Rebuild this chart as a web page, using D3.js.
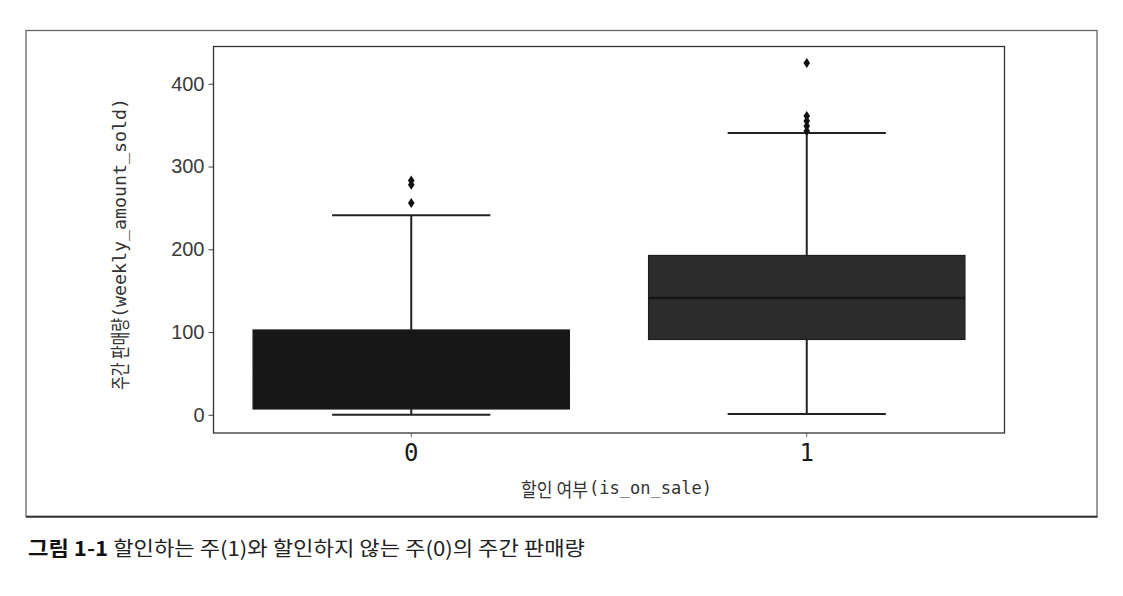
<!DOCTYPE html>
<html><head><meta charset="utf-8">
<script src="https://cdn.jsdelivr.net/npm/d3@7"></script>
<style>
html,body{margin:0;padding:0;background:#fff;}
svg{display:block;}
</style></head>
<body>
<svg id="chart" width="1123" height="596"></svg>
<script>
// ---- data ----
const categories = ["0", "1"];
const q1 = [7, 91];
const median = [55, 141];
const q3 = [102.5, 192.5];
const whiskerLow = [0, 1];
const whiskerHigh = [241, 340.5];
const outliers0 = [283, 278, 256];
const outliers1 = [425, 361, 355, 349, 343];
const yTicks = [0, 100, 200, 300, 400];
const yLabelKo = "주간 판매량";
const yLabelEn = "(weekly_amount_sold)";
const xLabelKo = "할인 여부";
const xLabelEn = "(is_on_sale)";
const captionBold = "그림 1-1";
const captionText = " 할인하는 주(1)와 할인하지 않는 주(0)의 주간 판매량";

const outliers = [outliers0, outliers1];
const boxFill = ["#171717", "#2c2c2c"];
const lineColor = "#222";

const svg = d3.select("#chart");
const M = {left: 213.5, right: 1004.5, top: 46.5, bottom: 433};

const x = d3.scaleBand().domain(categories).range([M.left, M.right]).padding(0);
const y = d3.scaleLinear().domain([-22, 445]).range([M.bottom, M.top]);

// outer frame
svg.append("rect").attr("x", 26).attr("y", 30.5).attr("width", 1071).attr("height", 486)
  .attr("fill", "none").attr("stroke", "#666").attr("stroke-width", 1.3);
svg.append("line").attr("x1", 26).attr("x2", 1097.5).attr("y1", 516.7).attr("y2", 516.7)
  .attr("stroke", "#333").attr("stroke-width", 2);

// boxes
const bw = x.bandwidth() * 0.8;
const g = svg.append("g");
categories.forEach((c, i) => {
  const cx = x(c) + x.bandwidth() / 2;
  // whiskers
  g.append("line").attr("x1", cx).attr("x2", cx).attr("y1", y(whiskerLow[i])).attr("y2", y(q1[i]))
    .attr("stroke", lineColor).attr("stroke-width", 2);
  g.append("line").attr("x1", cx).attr("x2", cx).attr("y1", y(q3[i])).attr("y2", y(whiskerHigh[i]))
    .attr("stroke", lineColor).attr("stroke-width", 2);
  // caps
  [whiskerLow[i], whiskerHigh[i]].forEach(v => {
    g.append("line").attr("x1", cx - bw / 4).attr("x2", cx + bw / 4).attr("y1", y(v)).attr("y2", y(v))
      .attr("stroke", lineColor).attr("stroke-width", 2);
  });
  // box
  g.append("rect").attr("x", cx - bw / 2).attr("width", bw)
    .attr("y", y(q3[i])).attr("height", y(q1[i]) - y(q3[i]))
    .attr("fill", boxFill[i]).attr("stroke", "#1e1e1e").attr("stroke-width", 1.2);
  // median
  g.append("line").attr("x1", cx - bw / 2).attr("x2", cx + bw / 2).attr("y1", y(median[i])).attr("y2", y(median[i]))
    .attr("stroke", i === 0 ? boxFill[0] : "#151515").attr("stroke-width", 2.5);
  // outliers (diamonds)
  g.selectAll(null).data(outliers[i]).enter().append("path")
    .attr("d", "M0,-5 L3.3,0 L0,5 L-3.3,0 Z")
    .attr("transform", d => `translate(${cx},${y(d)})`)
    .attr("fill", "#111");
});

// axes
const yAxis = svg.append("g").attr("transform", `translate(${M.left},0)`)
  .call(d3.axisLeft(y).tickValues(yTicks).tickSize(5).tickPadding(4));
yAxis.select(".domain").remove();
yAxis.selectAll(".tick line").attr("stroke", "#444");
yAxis.selectAll(".tick text").attr("font-family", "Liberation Sans, Arial, sans-serif")
  .attr("font-size", 20).attr("fill", "#3a3a3a");

const xAxis = svg.append("g").attr("transform", `translate(0,${M.bottom})`)
  .call(d3.axisBottom(x).tickSize(4).tickPadding(7));
xAxis.select(".domain").remove();
xAxis.selectAll(".tick line").attr("stroke", "#666");
xAxis.selectAll(".tick text").attr("font-family", "DejaVu Sans Mono, monospace")
  .attr("font-size", 24).attr("fill", "#1a1a1a");

// plot spines
svg.append("rect").attr("x", M.left).attr("y", M.top).attr("width", M.right - M.left).attr("height", M.bottom - M.top)
  .attr("fill", "none").attr("stroke", "#333").attr("stroke-width", 1.3);

// y label
const yl = svg.append("g").attr("transform", "translate(119,244) rotate(-90)");
yl.append("text").attr("x", -146).attr("y", 0).attr("dominant-baseline", "central")
  .attr("font-family", "Noto Sans CJK KR").attr("font-size", 20).attr("fill", "#333")
  .attr("textLength", 72).attr("lengthAdjust", "spacingAndGlyphs").text(yLabelKo);
yl.append("text").attr("x", -74).attr("y", 0).attr("dominant-baseline", "central")
  .attr("font-family", "DejaVu Sans Mono, monospace").attr("font-size", 18).attr("fill", "#333")
  .attr("textLength", 220).attr("lengthAdjust", "spacingAndGlyphs").text(yLabelEn);

// x label
svg.append("text").attr("x", 521).attr("y", 488).attr("dominant-baseline", "central")
  .attr("font-family", "Noto Sans CJK KR").attr("font-size", 19).attr("fill", "#333")
  .attr("textLength", 67).attr("lengthAdjust", "spacingAndGlyphs").text(xLabelKo);
svg.append("text").attr("x", 589).attr("y", 488).attr("dominant-baseline", "central")
  .attr("font-family", "DejaVu Sans Mono, monospace").attr("font-size", 17).attr("fill", "#333")
  .attr("textLength", 123).attr("lengthAdjust", "spacingAndGlyphs").text(xLabelEn);

// caption
const cap = svg.append("text").attr("x", 28).attr("y", 547).attr("dominant-baseline", "central")
  .attr("font-family", "Noto Sans CJK KR").attr("font-size", 20).attr("fill", "#222")
  .attr("textLength", 557).attr("lengthAdjust", "spacingAndGlyphs");
cap.append("tspan").attr("font-weight", "bold").attr("fill", "#111").text(captionBold);
cap.append("tspan").text(captionText);
</script>
</body></html>
